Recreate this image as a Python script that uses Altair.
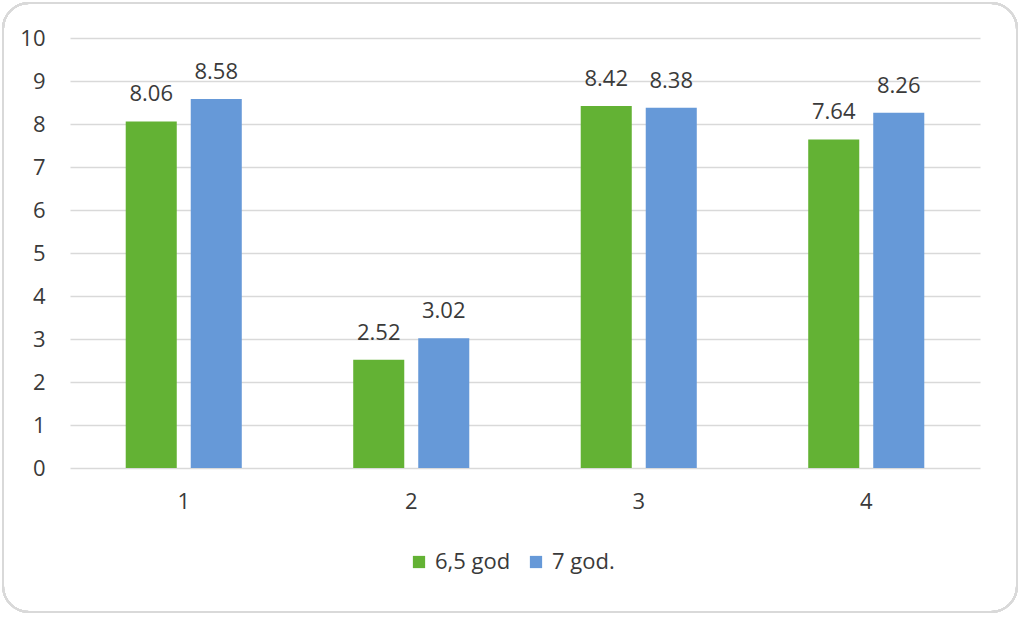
import altair as alt
import pandas as pd

categories = ["1", "2", "3", "4"]
series_names = ["6,5 god", "7 god."]
values_65 = [8.06, 2.52, 8.42, 7.64]
values_7 = [8.58, 3.02, 8.38, 8.26]
colors = ["#63b234", "#6699d8"]

rows = []
for c, a, b in zip(categories, values_65, values_7):
    rows.append({"cat": c, "series": series_names[0], "value": a, "label": f"{a:.2f}"})
    rows.append({"cat": c, "series": series_names[1], "value": b, "label": f"{b:.2f}"})
df = pd.DataFrame(rows)

FONT = "Open Sans"
TXT = "#3a3a3a"
FS = 22

base = alt.Chart(df)

x_enc = alt.X("cat:N", sort=categories, title=None,
              scale=alt.Scale(paddingInner=0, paddingOuter=0),
              axis=alt.Axis(labelAngle=0, domain=False, ticks=False, labelPadding=23,
                            labelFontSize=FS, labelColor=TXT, labelFont=FONT))
xoff = alt.XOffset("series:N", sort=series_names,
                   scale=alt.Scale(paddingInner=0.215, paddingOuter=0.857))

bars = base.mark_bar().encode(
    x=x_enc,
    xOffset=xoff,
    y=alt.Y("value:Q", title=None,
            scale=alt.Scale(domain=[0, 10]),
            axis=alt.Axis(values=list(range(0, 11)), domain=False, ticks=False,
                          labelPadding=25, labelFontSize=FS, labelColor=TXT, labelFont=FONT,
                          gridColor="#d9d9d9", gridWidth=1.5)),
    color=alt.Color("series:N", sort=series_names, title=None,
                    scale=alt.Scale(domain=series_names, range=colors),
                    legend=alt.Legend(orient="none", legendX=338, legendY=513,
                                      direction="horizontal", symbolType="square",
                                      symbolSize=150, symbolStrokeWidth=0,
                                      labelFontSize=FS, labelColor=TXT, labelFont=FONT,
                                      labelOffset=5, columnPadding=14)),
)

labels = base.mark_text(baseline="alphabetic", dy=-20, fontSize=FS, color=TXT, font=FONT).encode(
    x=alt.X("cat:N", sort=categories),
    xOffset=xoff,
    y=alt.Y("value:Q"),
    text="label:N",
)

frame = base.mark_rect(fill="transparent", stroke="#d9d9d9", strokeWidth=2,
                       cornerRadius=26).encode(
    x=alt.value(-67), x2=alt.value(947), y=alt.value(-35), y2=alt.value(574)
)

chart = alt.layer(frame, bars, labels).properties(
    width=910, height=430,
    autosize=alt.AutoSizeParams(type="none"),
    padding={"left": 70, "top": 38, "right": 44, "bottom": 150},
    background="white",
).configure_view(stroke=None)

chart.save("out.html", embed_options={"renderer": "svg", "actions": False})
